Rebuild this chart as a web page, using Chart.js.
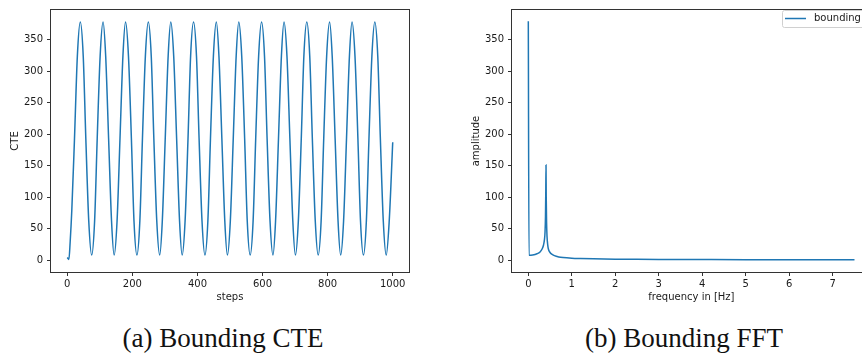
<!DOCTYPE html>
<html>
<head>
<meta charset="utf-8">
<script src="https://cdn.jsdelivr.net/npm/chart.js@4.4.0/dist/chart.umd.min.js"></script>
<style>
  html, body { margin: 0; padding: 0; background: #fff; }
  body { width: 862px; height: 354px; overflow: hidden; position: relative; }
  canvas { position: absolute; top: 0; }
  #cteChart { left: 0; }
  #fftChart { left: 440px; }
  .caption {
    position: absolute; top: 323px; width: 300px; text-align: center;
    font-family: "Liberation Serif", serif; font-size: 27px; color: #111;
  }
</style>
</head>
<body>
<canvas id="cteChart" width="440" height="310"></canvas>
<canvas id="fftChart" width="440" height="310"></canvas>
<div class="caption" style="left:73px">(a) Bounding CTE</div>
<div class="caption" style="left:534px">(b) Bounding FFT</div>
<script>
// left plot: CTE per step (peaks, troughs and points between)
const cteSteps = [0, 5, 9, 14, 22, 31,
  40, 49, 57, 66, 75, 84, 92, 101,
  110, 118, 127, 136, 144, 153, 162, 171,
  179, 188, 197, 205, 214, 223, 231, 240,
  249, 258, 266, 275, 284, 292, 301, 310,
  318, 327, 336, 345, 353, 362, 371, 379,
  388, 397, 405, 414, 423, 432, 440, 449,
  458, 466, 475, 484, 492, 501, 510, 519,
  527, 536, 545, 553, 562, 571, 579, 588,
  597, 606, 614, 623, 632, 640, 649, 658,
  666, 675, 684, 693, 701, 710, 719, 727,
  736, 745, 753, 762, 771, 780, 788, 797,
  806, 814, 823, 832, 840, 849, 858, 867,
  875, 884, 893, 901, 910, 919, 927, 936,
  945, 954, 962, 971, 980, 989, 1000];
const cteValues = [4, 1, 30, 80, 190, 324,
  378, 324, 193, 62, 8, 62, 193, 324,
  378, 324, 193, 62, 8, 62, 193, 324,
  378, 324, 193, 62, 8, 62, 193, 324,
  378, 324, 193, 62, 8, 62, 193, 324,
  378, 324, 193, 62, 8, 62, 193, 324,
  378, 324, 193, 62, 8, 62, 193, 324,
  378, 324, 193, 62, 8, 62, 193, 324,
  378, 324, 193, 62, 8, 62, 193, 324,
  378, 324, 193, 62, 8, 62, 193, 324,
  378, 324, 193, 62, 8, 62, 193, 324,
  378, 324, 193, 62, 8, 62, 193, 324,
  378, 324, 193, 62, 8, 62, 193, 324,
  378, 324, 193, 62, 8, 62, 193, 324,
  378, 324, 193, 62, 8, 60, 187];

// right plot: FFT amplitude
const fftFreq = [0, 0.016, 0.1, 0.2, 0.27, 0.32, 0.35, 0.37, 0.385, 0.395, 0.402, 0.407,
  0.412, 0.42, 0.43, 0.445, 0.46, 0.5, 0.55, 0.6, 0.7, 0.8, 1.0, 1.2, 1.5, 2.0, 2.5,
  3, 4, 5, 6, 7, 7.5];
const fftAmp = [379, 7.5, 8, 10, 13, 18, 24, 32, 45, 70, 110, 151,
  100, 60, 38, 25, 18, 12, 9, 7, 5, 4, 3, 2.5, 2, 1.5, 1.2,
  1, 0.8, 0.7, 0.6, 0.5, 0.5];

const yTickValues = [0, 50, 100, 150, 200, 250, 300, 350];
const stepTickValues = [0, 200, 400, 600, 800, 1000];
const freqTickValues = [0, 1, 2, 3, 4, 5, 6, 7];

const blue = '#1f77b4';
const ink = '#1a1a1a';
Chart.defaults.font.family = 'DejaVu Sans';
Chart.defaults.font.size = 10;
Chart.defaults.color = ink;

// matplotlib style box round the plot area
const frame = {
  id: 'frame',
  afterDraw(chart) {
    const a = chart.chartArea, ctx = chart.ctx;
    ctx.save();
    ctx.strokeStyle = '#333';
    ctx.lineWidth = 1;
    ctx.strokeRect(Math.round(a.left) - 0.5, Math.round(a.top) - 0.5,
      Math.round(a.right - a.left) + 1, Math.round(a.bottom - a.top) + 1);
    ctx.restore();
  }
};

// legend box inside the axes, upper right
const boxLegend = {
  id: 'boxLegend',
  afterDraw(chart) {
    const ctx = chart.ctx, ds = chart.data.datasets[0];
    ctx.save();
    ctx.fillStyle = 'rgba(255,255,255,0.8)';
    ctx.strokeStyle = '#d0d0d0';
    ctx.lineWidth = 1;
    ctx.beginPath();
    ctx.roundRect(342.5, 10.5, 110, 17, 2);
    ctx.fill();
    ctx.stroke();
    ctx.strokeStyle = ds.borderColor;
    ctx.lineWidth = 1.5;
    ctx.beginPath();
    ctx.moveTo(345, 18.5);
    ctx.lineTo(366, 18.5);
    ctx.stroke();
    ctx.fillStyle = ink;
    ctx.font = '10px "DejaVu Sans"';
    ctx.textBaseline = 'middle';
    ctx.fillText(ds.label, 374, 18.5);
    ctx.restore();
  }
};

function axis(min, max, tickValues, fit, title, titlePad, tickPad) {
  return {
    type: 'linear', min: min, max: max,
    afterBuildTicks: s => { s.ticks = tickValues.map(v => ({ value: v })); },
    afterFit: fit,
    grid: { drawOnChartArea: false, drawTicks: true, tickLength: 4, color: '#333' },
    border: { display: false },
    ticks: { padding: tickPad, maxRotation: 0, autoSkip: false, callback: v => String(v) },
    title: { display: true, text: title, padding: titlePad, color: ink }
  };
}

function makeChart(id, xs, ys, label, xMin, xMax, xTicks, yWidth, padRight, xTitle, yTitle, yTitlePad, plugins) {
  const pts = xs.map((x, i) => ({ x: x, y: ys[i] }));
  return new Chart(document.getElementById(id), {
    type: 'line',
    data: { datasets: [{
      label: label, data: pts, borderColor: blue, borderWidth: 1.5,
      pointRadius: 0, fill: false, cubicInterpolationMode: 'monotone'
    }] },
    options: {
      responsive: false, animation: false,
      layout: { padding: { top: 5, right: padRight, left: 0, bottom: 0 } },
      plugins: { legend: { display: false }, tooltip: { enabled: false } },
      scales: {
        x: axis(xMin, xMax, xTicks, s => { s.height = 38; }, xTitle, { top: 0, bottom: 7 }, 2),
        y: axis(-18.9, 396.9, yTickValues, s => { s.width = yWidth; }, yTitle, { top: yTitlePad, bottom: 0 }, 4)
      }
    },
    plugins: plugins
  });
}

makeChart('cteChart', cteSteps, cteValues, 'CTE', -50, 1050, stepTickValues, 51, 31, 'steps', 'CTE', 9, [frame]);
makeChart('fftChart', fftFreq, fftAmp, 'bounding', -0.375, 7.875, freqTickValues, 72, 9.2, 'frequency in [Hz]', 'amplitude', 30, [frame, boxLegend]);
</script>
</body>
</html>
